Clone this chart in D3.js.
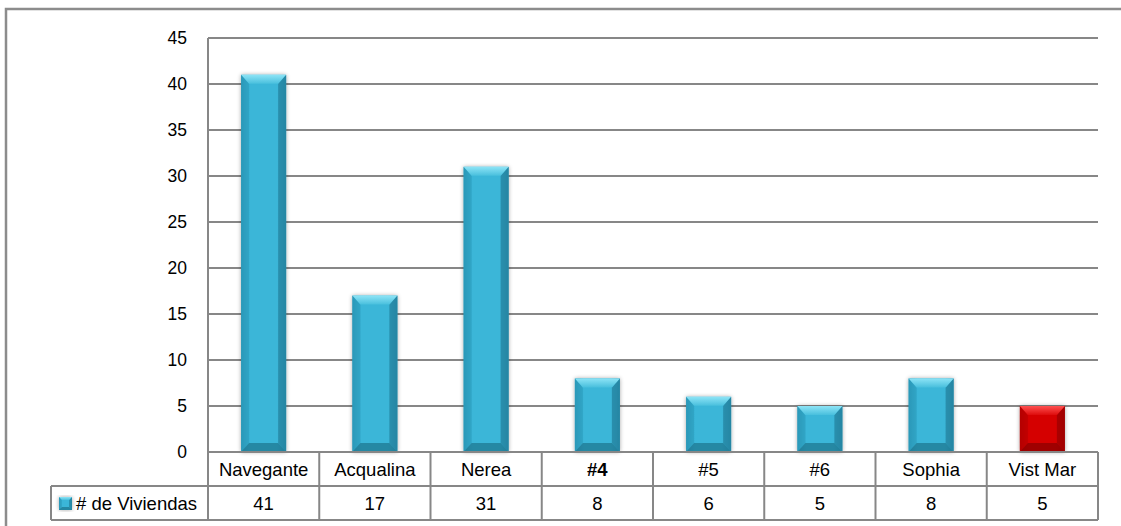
<!DOCTYPE html>
<html>
<head>
<meta charset="utf-8">
<script src="https://cdn.jsdelivr.net/npm/d3@7"></script>
<style>
  html, body { margin: 0; padding: 0; background: #fff; }
  svg { display: block; }
  text { font-family: "Liberation Sans", Arial, sans-serif; fill: #000; }
</style>
</head>
<body>
<svg id="chart" width="1121" height="526"></svg>
<script>
// Housing units per development
const categories = ["Navegante", "Acqualina", "Nerea", "#4", "#5", "#6", "Sophia", "Vist Mar"];
const viviendas = [41, 17, 31, 8, 6, 5, 8, 5];
const highlighted = ["Vist Mar"];
const seriesName = "# de Viviendas";
const yTicks = [0, 5, 10, 15, 20, 25, 30, 35, 40, 45];

const svg = d3.select("#chart");
const W = 1121, H = 526;
const plot = { left: 208, right: 1098, top: 38, bottom: 452 };
const rowH = 34;
const legendLeft = 51;
const gridColor = "#878787";

const x = d3.scaleBand().domain(categories).range([plot.left, plot.right]).paddingInner(0.595).paddingOuter(0.2975);
const xCell = d3.scaleBand().domain(categories).range([plot.left, plot.right]);
const y = d3.scaleLinear().domain([0, 45]).range([plot.bottom, plot.top]);

const defs = svg.append("defs");
function faceGradient(id, edge, mid) {
  const g = defs.append("linearGradient").attr("id", id).attr("x1", 0).attr("x2", 1).attr("y1", 0).attr("y2", 0);
  g.append("stop").attr("offset", 0).attr("stop-color", edge);
  g.append("stop").attr("offset", 0.2).attr("stop-color", mid);
  g.append("stop").attr("offset", 0.8).attr("stop-color", mid);
  g.append("stop").attr("offset", 1).attr("stop-color", edge);
}
function topGradient(id, light, mid) {
  const g = defs.append("linearGradient").attr("id", id).attr("x1", 0).attr("x2", 0).attr("y1", 0).attr("y2", 1);
  g.append("stop").attr("offset", 0).attr("stop-color", light);
  g.append("stop").attr("offset", 1).attr("stop-color", mid);
}
faceGradient("faceBlue", "#2a93b3", "#3bb6d8");
faceGradient("faceRed", "#b00000", "#d50404");
topGradient("topBlue", "#8de4f6", "#48bfdd");
topGradient("topRed", "#ff5050", "#dd0c0c");
const shadow = defs.append("filter").attr("id", "shadow").attr("x", "-30%").attr("y", "-10%").attr("width", "160%").attr("height", "120%");
shadow.append("feGaussianBlur").attr("in", "SourceAlpha").attr("stdDeviation", 2.2);
shadow.append("feOffset").attr("dx", 0).attr("dy", 0).attr("result", "b");
shadow.append("feComponentTransfer").append("feFuncA").attr("type", "linear").attr("slope", 0.35);
const merge = shadow.append("feMerge");
merge.append("feMergeNode");
merge.append("feMergeNode").attr("in", "SourceGraphic");

const palette = {
  blue: { face: "url(#faceBlue)", top: "url(#topBlue)", left: "#2c9dbd", right: "#24809c", bottom: "#1f7892" },
  red:  { face: "url(#faceRed)",  top: "url(#topRed)",  left: "#b80000", right: "#9a0000", bottom: "#8c0000" }
};

// outer frame
svg.append("rect").attr("x", 6).attr("y", 9).attr("width", W).attr("height", H)
  .attr("fill", "none").attr("stroke", "#8c8c8c").attr("stroke-width", 2.5);

// gridlines
svg.append("g").selectAll("line").data(yTicks.filter(d => d > 0)).join("line")
  .attr("x1", plot.left).attr("x2", plot.right)
  .attr("y1", d => y(d)).attr("y2", d => y(d))
  .attr("stroke", gridColor).attr("stroke-width", 2);

// y axis
const yAxis = svg.append("g").attr("transform", `translate(${plot.left},0)`)
  .call(d3.axisLeft(y).tickValues(yTicks).tickSize(0).tickPadding(21));
yAxis.select(".domain").remove();
yAxis.selectAll("text").attr("font-size", 17.5).attr("font-family", "Liberation Sans, Arial, sans-serif").attr("fill", "#000");
svg.append("line").attr("x1", plot.left).attr("x2", plot.left).attr("y1", plot.top).attr("y2", plot.bottom + 2 * rowH)
  .attr("stroke", gridColor).attr("stroke-width", 2);

// beveled bars
function drawBar(g, x0, w, y0, y1, p, bev = 9, side = 8) {
  const h = y1 - y0, b = Math.min(bev, h / 3), s = side;
  g.append("rect").attr("x", x0).attr("y", y0).attr("width", w).attr("height", h).attr("fill", p.face).attr("filter", "url(#shadow)");
  g.append("polygon").attr("points", [[x0, y0], [x0 + s, y0 + b], [x0 + s, y1 - b], [x0, y1]].join(" ")).attr("fill", p.left).attr("opacity", 0.6);
  g.append("polygon").attr("points", [[x0 + w, y0], [x0 + w - s, y0 + b], [x0 + w - s, y1 - b], [x0 + w, y1]].join(" ")).attr("fill", p.right).attr("opacity", 0.7);
  g.append("polygon").attr("points", [[x0, y0], [x0 + w, y0], [x0 + w - s, y0 + b], [x0 + s, y0 + b]].join(" ")).attr("fill", p.top);
  g.append("polygon").attr("points", [[x0, y1], [x0 + w, y1], [x0 + w - s, y1 - b], [x0 + s, y1 - b]].join(" ")).attr("fill", p.bottom).attr("opacity", 0.75);
}
const bars = svg.append("g");
categories.forEach((c, i) => {
  const p = highlighted.includes(c) ? palette.red : palette.blue;
  drawBar(bars.append("g"), x(c), x.bandwidth(), y(viviendas[i]), y(0), p);
});

// data table
const table = svg.append("g");
const rowTop = plot.bottom, rowMid = plot.bottom + rowH, rowBot = plot.bottom + 2 * rowH;
table.append("line").attr("x1", plot.left).attr("x2", plot.right).attr("y1", rowTop).attr("y2", rowTop).attr("stroke", gridColor).attr("stroke-width", 2);
table.append("line").attr("x1", legendLeft).attr("x2", plot.right).attr("y1", rowMid).attr("y2", rowMid).attr("stroke", gridColor).attr("stroke-width", 2);
table.append("line").attr("x1", legendLeft).attr("x2", plot.right).attr("y1", rowBot).attr("y2", rowBot).attr("stroke", gridColor).attr("stroke-width", 2);
table.append("line").attr("x1", legendLeft).attr("x2", legendLeft).attr("y1", rowMid).attr("y2", rowBot).attr("stroke", gridColor).attr("stroke-width", 2);
table.selectAll("line.col").data(categories).join("line").attr("class", "col")
  .attr("x1", d => xCell(d) + xCell.bandwidth()).attr("x2", d => xCell(d) + xCell.bandwidth())
  .attr("y1", rowTop).attr("y2", rowBot).attr("stroke", gridColor).attr("stroke-width", 2);

table.selectAll("text.cat").data(categories).join("text").attr("class", "cat")
  .attr("x", d => xCell(d) + xCell.bandwidth() / 2).attr("y", rowTop + rowH / 2 + 6.5)
  .attr("text-anchor", "middle").attr("font-size", 18.5)
  .attr("font-weight", d => d === "#4" ? "bold" : "normal")
  .text(d => d);
table.selectAll("text.val").data(viviendas).join("text").attr("class", "val")
  .attr("x", (d, i) => xCell(categories[i]) + xCell.bandwidth() / 2).attr("y", rowMid + rowH / 2 + 6.5)
  .attr("text-anchor", "middle").attr("font-size", 18.5)
  .text(d => d);

// legend key in the table header cell
const key = table.append("g");
drawBar(key, 59, 13, rowMid + 11, rowMid + 24, palette.blue, 3, 3);
table.append("text").attr("x", 76).attr("y", rowMid + rowH / 2 + 6.5).attr("font-size", 18.5).text(seriesName);
</script>
</body>
</html>
